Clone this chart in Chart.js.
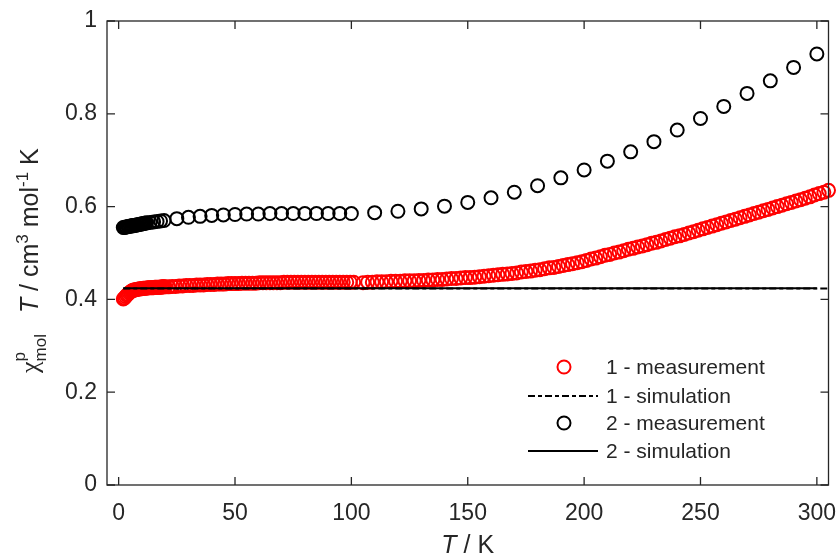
<!DOCTYPE html>
<html>
<head>
<meta charset="utf-8">
<script src="https://cdn.jsdelivr.net/npm/chart.js@4.4.1/dist/chart.umd.min.js"></script>
<style>
  html, body { margin: 0; padding: 0; background: #fff; }
</style>
</head>
<body>
<canvas id="chiT" width="837" height="557"></canvas>
<script>
// ── data: T in K, chi*T in cm3 mol-1 K ──
const t1Meas = [
  2, 2.5, 3, 3.5, 4, 4.5, 5, 5.5, 6, 6.5, 7, 7.5, 8, 8.5, 9, 9.5, 10, 10.5, 11, 11.5,
  12, 12.5, 13, 13.5, 14, 14.5, 15, 15.5, 16, 16.5, 17, 17.5, 18, 18.5, 19, 19.5, 20,
  21.5, 23, 24.5, 26, 27.5, 29, 30.5, 32, 33.5, 35, 36.5, 38, 39.5, 41, 42.5, 44, 45.5, 47, 48.5, 50,
  51.5, 53, 54.5, 56, 57.5, 59, 60.5, 62, 63.5, 65, 66.5, 68, 69.5, 71, 72.5, 74, 75.5, 77, 78.5, 80,
  81.5, 83, 84.5, 86, 87.5, 89, 90.5, 92, 93.5, 95, 96.5, 98, 99.5, 101,
  105, 107, 109, 111, 113, 115, 117, 119, 121, 123, 125, 127, 129, 131, 133, 135, 137, 139, 141, 143,
  145, 147, 149, 151, 153, 155, 157, 159, 161, 163, 165, 167, 169, 171, 173, 175, 177, 179, 181, 183,
  185, 187, 189, 191, 193, 195, 197, 199, 201, 203, 205, 207, 209, 211, 213, 215, 217, 219, 221, 223,
  225, 227, 229, 231, 233, 235, 237, 239, 241, 243, 245, 247, 249, 251, 253, 255, 257, 259, 261, 263,
  265, 267, 269, 271, 273, 275, 277, 279, 281, 283, 285, 287, 289, 291, 293, 295, 297, 299, 301, 303, 305
];
const chiT1Meas = [
  0.401, 0.403, 0.406, 0.409, 0.411, 0.414, 0.416, 0.418, 0.419, 0.420, 0.421, 0.421, 0.422, 0.422, 0.423, 0.423, 0.423, 0.424, 0.424, 0.424,
  0.424, 0.425, 0.425, 0.425, 0.425, 0.425, 0.425, 0.426, 0.426, 0.426, 0.426, 0.426, 0.426, 0.427, 0.427, 0.427, 0.427,
  0.427, 0.428, 0.428, 0.429, 0.429, 0.430, 0.430, 0.430, 0.431, 0.431, 0.431, 0.432, 0.432, 0.432, 0.433, 0.433, 0.433, 0.434, 0.434, 0.434,
  0.434, 0.435, 0.435, 0.435, 0.435, 0.435, 0.436, 0.436, 0.436, 0.436, 0.436, 0.436, 0.436, 0.437, 0.437, 0.437, 0.437, 0.437, 0.437, 0.437,
  0.437, 0.437, 0.437, 0.437, 0.437, 0.437, 0.437, 0.437, 0.437, 0.437, 0.437, 0.437, 0.437, 0.437,
  0.436, 0.437, 0.437, 0.438, 0.438, 0.438, 0.439, 0.439, 0.439, 0.440, 0.440, 0.440, 0.441, 0.441, 0.442, 0.442, 0.443, 0.443, 0.444, 0.445,
  0.445, 0.446, 0.447, 0.447, 0.448, 0.449, 0.450, 0.451, 0.452, 0.453, 0.454, 0.455, 0.456, 0.457, 0.459, 0.460, 0.461, 0.463, 0.464, 0.466,
  0.468, 0.469, 0.471, 0.473, 0.475, 0.477, 0.479, 0.481, 0.484, 0.487, 0.489, 0.492, 0.495, 0.497, 0.500, 0.502, 0.505, 0.508, 0.510, 0.513,
  0.515, 0.518, 0.521, 0.523, 0.526, 0.529, 0.532, 0.535, 0.537, 0.540, 0.543, 0.546, 0.549, 0.552, 0.555, 0.558, 0.561, 0.564, 0.567, 0.570,
  0.573, 0.576, 0.579, 0.582, 0.585, 0.588, 0.591, 0.594, 0.597, 0.600, 0.603, 0.606, 0.609, 0.612, 0.615, 0.618, 0.621, 0.625, 0.628, 0.631, 0.635
];
const t2Meas = [
  2, 2.5, 3, 3.5, 4, 4.5, 5, 5.5, 6, 6.5, 7, 7.5, 8, 8.5, 9, 9.5, 10, 10.5, 11, 11.5, 12,
  13.5, 15, 16.5, 18, 19.5,
  25, 30, 35, 40, 45, 50, 55, 60, 65, 70, 75, 80, 85, 90, 95, 100,
  110, 120, 130, 140, 150, 160, 170, 180, 190, 200, 210, 220, 230, 240, 250, 260, 270, 280, 290, 300
];
const chiT2Meas = [
  0.555, 0.555, 0.556, 0.556, 0.557, 0.557, 0.558, 0.558, 0.559, 0.559, 0.560, 0.560, 0.561, 0.561, 0.562, 0.562, 0.563, 0.563, 0.564, 0.564, 0.565,
  0.566, 0.567, 0.568, 0.569, 0.570,
  0.574, 0.577, 0.579, 0.581, 0.582, 0.583, 0.584, 0.584, 0.585, 0.585, 0.585, 0.585, 0.585, 0.585, 0.585, 0.585,
  0.587, 0.590, 0.595, 0.601, 0.609, 0.619, 0.631, 0.645, 0.662, 0.679, 0.698, 0.718, 0.740, 0.765, 0.790, 0.816, 0.844, 0.871, 0.900, 0.929
];
const t1Sim = [2, 305];
const chiT1Sim = [0.4235, 0.4235];
const t2Sim = [2, 300];
const chiT2Sim = [0.424, 0.424];

const xTicks = [0, 50, 100, 150, 200, 250, 300];
const yTicks = [0, 0.2, 0.4, 0.6, 0.8, 1];
const yTickLabels = ['0', '0.2', '0.4', '0.6', '0.8', '1'];
const seriesLabels = ['1 - measurement', '1 - simulation', '2 - measurement', '2 - simulation'];

const FONT = "'Liberation Sans', Arial, Helvetica, sans-serif";
const INK = '#262626';

const pts = (xs, ys) => xs.map((x, i) => ({ x: x, y: ys[i] }));

// box + inward ticks on all four sides (matlab look)
const frame = {
  id: 'frame',
  afterDatasetsDraw(chart) {
    const { ctx, chartArea: a, scales: { x, y } } = chart;
    ctx.save();
    ctx.strokeStyle = INK;
    ctx.lineWidth = 1.3;
    ctx.strokeRect(a.left, a.top, a.right - a.left, a.bottom - a.top);
    ctx.beginPath();
    xTicks.forEach(v => {
      const px = x.getPixelForValue(v);
      ctx.moveTo(px, a.bottom); ctx.lineTo(px, a.bottom - 8);
      ctx.moveTo(px, a.top); ctx.lineTo(px, a.top + 8);
    });
    yTicks.forEach(v => {
      const py = y.getPixelForValue(v);
      ctx.moveTo(a.left, py); ctx.lineTo(a.left + 8, py);
      ctx.moveTo(a.right, py); ctx.lineTo(a.right - 8, py);
    });
    ctx.stroke();
    ctx.restore();
  }
};

// axis titles with sub/superscripts
const titles = {
  id: 'titles',
  afterDraw(chart) {
    const { ctx, chartArea: a } = chart;
    ctx.save();
    ctx.fillStyle = INK;
    ctx.textBaseline = 'alphabetic';

    // x title: T / K
    const fIt = 'italic 25px ' + FONT, fRg = '25px ' + FONT;
    ctx.font = fIt; const wT = ctx.measureText('T').width;
    ctx.font = fRg; const wR = ctx.measureText(' / K').width;
    let x0 = (a.left + a.right) / 2 - (wT + wR) / 2;
    ctx.font = fIt; ctx.fillText('T', x0, 553);
    ctx.font = fRg; ctx.fillText(' / K', x0 + wT, 553);

    // y title, rotated
    ctx.translate(38, 373);
    ctx.rotate(-Math.PI / 2);
    const parts = [
      { t: '\u03C7', f: '26px "Liberation Serif", "DejaVu Serif", serif', dy: 0 },
      { t: 'p', f: '17px ' + FONT, dy: -13, stay: true },
      { t: 'mol', f: '17px ' + FONT, dy: 8 },
      { gap: 14 },
      { t: ' T', f: fIt, dy: 0 },
      { t: ' / cm', f: fRg, dy: 0 },
      { t: '3', f: '17px ' + FONT, dy: -10 },
      { t: ' mol', f: fRg, dy: 0 },
      { t: '-1', f: '17px ' + FONT, dy: -10 },
      { t: ' K', f: fRg, dy: 0 }
    ];
    let cx = 0;
    parts.forEach(p => {
      if (p.gap) { cx += p.gap; return; }
      ctx.font = p.f;
      ctx.fillText(p.t, cx, p.dy);
      if (!p.stay) cx += ctx.measureText(p.t).width;
    });
    ctx.restore();
  }
};

// legend, no box, lower right inside the axes
const legendBox = {
  id: 'legendBox',
  afterDraw(chart) {
    const { ctx } = chart;
    const rows = [367, 396, 423, 451];
    ctx.save();
    ctx.font = '21px ' + FONT;
    ctx.textBaseline = 'middle';
    chart.data.datasets.forEach((ds, i) => {
      const yy = rows[i];
      ctx.strokeStyle = ds.borderColor;
      ctx.lineWidth = ds.borderWidth;
      if (ds.showLine) {
        ctx.setLineDash(ds.borderDash || []);
        ctx.beginPath(); ctx.moveTo(528, yy); ctx.lineTo(598, yy); ctx.stroke();
        ctx.setLineDash([]);
      } else {
        ctx.beginPath(); ctx.arc(564, yy, ds.pointRadius, 0, Math.PI * 2); ctx.stroke();
      }
      ctx.fillStyle = INK;
      ctx.fillText(ds.label, 606, yy + 1);
    });
    ctx.restore();
  }
};

new Chart(document.getElementById('chiT'), {
  type: 'scatter',
  data: {
    datasets: [
      { label: seriesLabels[0], data: pts(t1Meas, chiT1Meas), showLine: false,
        pointStyle: 'circle', pointRadius: 6.5, borderColor: '#ff0000', backgroundColor: 'rgba(0,0,0,0)',
        borderWidth: 2, order: 4, clip: false },
      { label: seriesLabels[1], data: pts(t1Sim, chiT1Sim), showLine: true, pointRadius: 0,
        borderColor: '#000000', borderWidth: 1.8, borderDash: [7, 3, 4, 3], order: 3 },
      { label: seriesLabels[2], data: pts(t2Meas, chiT2Meas), showLine: false,
        pointStyle: 'circle', pointRadius: 6.5, borderColor: '#000000', backgroundColor: 'rgba(0,0,0,0)',
        borderWidth: 2, order: 2, clip: false },
      { label: seriesLabels[3], data: pts(t2Sim, chiT2Sim), showLine: true, pointRadius: 0,
        borderColor: '#000000', borderWidth: 1.8, order: 1 }
    ]
  },
  options: {
    responsive: false,
    animation: false,
    events: [],
    layout: { padding: { top: 21, right: 8, left: 0, bottom: 0 } },
    plugins: { legend: { display: false }, tooltip: { enabled: false } },
    scales: {
      x: {
        type: 'linear', min: -5, max: 305,
        grid: { display: false, drawTicks: false },
        border: { display: false },
        afterBuildTicks: s => { s.ticks = xTicks.map(v => ({ value: v })); },
        afterFit: s => { s.height = 72; s.paddingLeft = 0; s.paddingRight = 0; },
        ticks: { padding: 15, color: INK, font: { family: FONT, size: 23 }, maxRotation: 0,
                 callback: v => String(v) }
      },
      y: {
        type: 'linear', min: 0, max: 1,
        grid: { display: false, drawTicks: false },
        border: { display: false },
        afterBuildTicks: s => { s.ticks = yTicks.map(v => ({ value: v })); },
        afterFit: s => { s.width = 107; s.paddingTop = 0; s.paddingBottom = 0; },
        ticks: { padding: 10, color: INK, font: { family: FONT, size: 23 },
                 callback: v => yTickLabels[yTicks.indexOf(v)] }
      }
    }
  },
  plugins: [frame, titles, legendBox]
});
</script>
</body>
</html>
